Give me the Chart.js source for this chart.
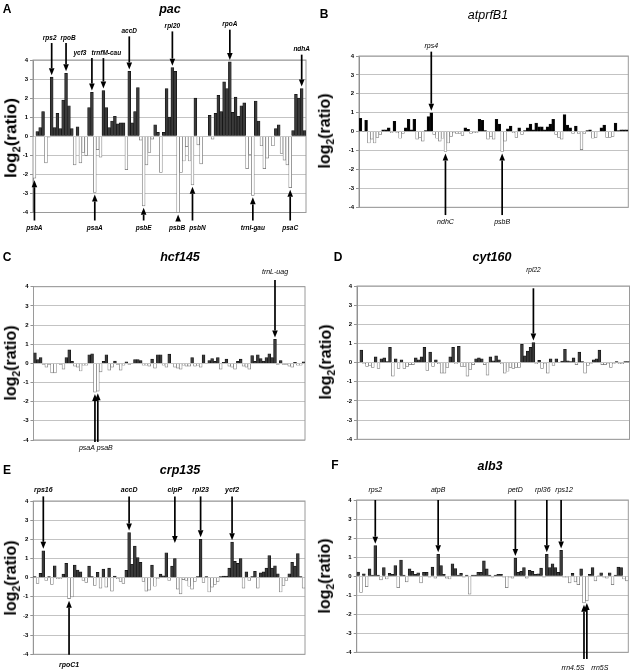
<!DOCTYPE html>
<html>
<head>
<meta charset="utf-8">
<script src="https://cdn.jsdelivr.net/npm/chart.js@4.4.1/dist/chart.umd.min.js"></script>
<style>
  body { margin: 0; background: #fff; width: 630px; height: 672px; position: relative; overflow: hidden; font-family: Arial, "Liberation Sans", sans-serif; }
  canvas { position: absolute; }
  .txt { position: absolute; transform: translate(-50%, -50%); white-space: nowrap; color: #000; }
  .letter { font: bold 12px Arial, "Liberation Sans", sans-serif; }
  .title { font: italic bold 12.5px Arial, "Liberation Sans", sans-serif; }
  .ylab { font: bold 16px Arial, "Liberation Sans", sans-serif; transform: translate(-50%, -50%) rotate(-90deg); }
  .ylab sub { font-size: 0.65em; }
</style>
</head>
<body>
<script>
// log2(ratio) per gene, in genome order
const pacVals = [-2.2, 0.25, 0.45, 1.3, -1.4, -0.05, 3.1, 0.45, 1.2, 0.4, 1.9, 3.3, 1.6, 0.4, -1.5, 0.5, -1.4, -0.85, -1.0, 1.5,
  2.3, -2.95, -0.7, -1.1, 2.4, 1.5, 0.45, 0.8, 1.05, 0.65, 0.7, 0.7, -1.75, 3.4, 0.7, 1.3, 2.55, -0.2, -3.65, -1.5,
  -0.85, -0.15, 0.6, 0.2, -1.9, 0.2, 2.5, 1.0, 3.6, 3.4, -4.0, -1.9, -1.3, -0.55, -1.3, -2.55, 2.0, -0.45, -1.45, 0,
  0, 1.1, -0.15, 1.2, 2.15, 1.3, 2.85, 2.5, 3.9, 1.25, 2.05, 1.05, 1.6, 1.75, -1.7, -0.95, -3.1, 1.85, 0.8, -0.5,
  -1.7, -1.15, 0, -0.5, 0.4, 0.6, -0.9, -1.25, -1.5, -2.7, 0.3, 2.2, 2.0, 2.5, 0.3];
const atprfB1Vals = [0.7, 0.02, 0.6, -0.6, -0.4, -0.6, -0.3, -0.15, 0.1, 0.1, 0.2, -0.05, 0.55, -0.05, -0.35, -0.1, 0.2, 0.65, 0.1, 0.65,
  -0.4, -0.3, -0.5, 0.05, 0.8, 1.0, -0.15, -0.35, -0.5, -0.35, -1.05, -0.6, -0.25, -0.05, -0.1, -0.1, -0.2, 0.2, 0.12, -0.1,
  -0.05, -0.05, 0.65, 0.6, 0.05, -0.4, -0.25, -0.4, 0.65, 0.4, -1.05, -0.5, 0.15, 0.3, -0.05, -0.3, 0.2, -0.15, 0.05, 0.2,
  0.4, 0.1, 0.45, 0.25, 0.25, 0.1, 0.25, 0.4, 0.65, -0.15, -0.3, -0.4, 0.9, 0.35, 0.2, -0.1, 0.3, -0.1, -0.95, -0.1,
  0.05, 0.1, -0.35, -0.3, 0.0, 0.2, 0.35, -0.3, -0.3, -0.25, 0.45, 0.05, 0.1, 0.1, 0.1];
const hcf145Vals = [0.55, 0.2, 0.3, -0.05, -0.2, -0.05, -0.5, -0.5, 0, -0.05, -0.3, 0.3, 0.7, 0.1, -0.15, -0.2, -0.4, -0.1, -0.1, 0.45,
  0.5, -1.5, -1.45, -0.45, 0.1, 0.45, -0.35, -0.2, 0.12, -0.05, -0.35, -0.1, 0.08, -0.05, 0, 0.2, 0.2, 0.15, -0.1, -0.1,
  -0.15, 0.22, -0.25, 0.45, 0.45, -0.1, -0.2, 0.48, 0, -0.2, -0.25, -0.3, -0.1, -0.15, -0.15, 0.3, -0.15, -0.1, -0.2, 0.45,
  0, 0.15, 0.25, 0.1, 0.3, -0.3, 0.05, 0.22, -0.15, -0.2, -0.3, 0.1, 0.22, -0.15, -0.2, -0.3, 0.4, 0.1, 0.45, 0.25,
  0.12, 0.3, 0.5, 0.3, 1.25, -0.05, 0.15, -0.05, -0.05, -0.15, -0.2, 0.05, -0.1, -0.1, 0.08];
const cyt160Vals = [0.02, 0.65, -0.05, -0.2, -0.15, -0.25, 0.3, -0.3, 0.2, 0.25, 0.05, 0.8, -0.7, 0.2, -0.3, 0.15, -0.3, -0.2, -0.1, -0.1,
  0.25, 0.15, 0.3, 0.8, -0.4, 0.55, -0.2, 0.15, -0.05, -0.55, -0.55, -0.25, 0.3, 0.8, -0.05, 0.85, -0.2, -0.2, -0.7, -0.35,
  -0.1, 0.2, 0.25, 0.2, -0.1, -0.65, 0.3, 0.1, 0.35, 0.15, -0.05, -0.55, -0.45, -0.25, -0.3, -0.25, -0.25, 0.95, 0.35, 0.6,
  0.8, 1.05, -0.05, 0.12, -0.3, -0.05, -0.55, 0.2, -0.15, 0.2, 0.0, 0.08, 0.7, 0.1, 0.05, 0.25, -0.1, 0.55, 0.05, -0.55,
  -0.15, -0.05, 0.15, 0.2, 0.65, -0.1, -0.1, -0.05, -0.25, -0.05, 0.05, -0.05, -0.05, 0.05, 0.05];
const crp135Vals = [0.05, -0.3, 0.22, 1.4, -0.15, 0.05, -0.35, 0.62, -0.05, -0.05, 0.18, 0.75, -1.1, -1.0, 0.65, 0.4, 0.3, -0.15, -0.25, 0.6,
  0.05, -0.4, 0.28, -0.55, 0.45, -0.5, 0.5, -0.7, 0.08, -0.05, -0.2, -0.3, 0.38, 2.35, 0.7, 1.65, 1.05, 0.8, -0.2, -0.7,
  -0.65, 0.65, -0.45, -0.05, 0.18, 0.1, 1.3, -0.15, 0.6, 1.0, -0.6, -0.85, -0.1, -0.15, -0.45, -0.6, -0.2, 0.05, 2.0, -0.25,
  0.05, -0.75, -0.5, -0.35, -0.2, 0.05, 0.08, 0.08, 0.5, 1.85, 0.85, 0.75, 1.0, -0.55, 0.3, -0.15, 0.05, 0.33, -0.55, 0.25,
  0.3, 0.5, 1.15, 0.5, 0.62, 0.2, -0.75, -0.4, -0.15, 0.2, 0.8, 0.6, 1.25, 0.05, -0.55];
const alb3Vals = [0.22, -0.85, 0.12, -0.55, 0.38, 0.05, 1.6, 0.05, -0.2, 0.45, -0.15, 0.15, 0.1, 0.55, -0.6, 0.85, 0.05, -0.3, 0.38, 0.25,
  0.1, 0.18, -0.35, 0.2, 0.2, -0.05, 0.48, -0.1, 1.15, 0.55, 0.1, -0.1, -0.15, 0.65, 0.4, 0.05, 0.15, -0.05, 0.05, -0.95,
  0.05, 0.05, 0.2, 0.2, 0.8, 0.38, 0.05, -0.05, 0.05, 0.1, 0.1, -0.05, -0.6, -0.05, -0.1, 0.95, 0.2, 0.25, 0.45, -0.1,
  0.3, 0.25, 0.1, 0.12, 0.42, -0.05, 1.15, 0.45, 0.65, 0.45, 0.2, 1.35, -0.05, -0.05, -0.35, 0.15, -0.3, -0.45, 0.38, -1.4,
  -1.3, 0.1, 0.45, -0.25, 0.02, 0.18, -0.05, -0.1, 0.18, -0.45, 0.05, 0.48, 0.45, -0.15, -0.25];

const yTicks = [-4, -3, -2, -1, 0, 1, 2, 3, 4];

// arrows: bar index, gene label, value where the arrow starts (above 4 / below -4)
const pacArrows = [
  { i: 6, label: "rps2", tail: 4.89, dx: -2 }, { i: 11, label: "rpoB", tail: 4.89, dx: 2 },
  { i: 20, label: "ycf3", tail: 4.1, dx: -12 }, { i: 24, label: "trnfM-cau", tail: 4.1, dx: 3 },
  { i: 33, label: "accD", tail: 5.24 }, { i: 48, label: "rpl20", tail: 5.5 },
  { i: 68, label: "rpoA", tail: 5.59 }, { i: 93, label: "ndhA", tail: 4.28 },
  { i: 0, label: "psbA", tail: -4.42 }, { i: 21, label: "psaA", tail: -4.42 },
  { i: 38, label: "psbE", tail: -4.42 }, { i: 50, label: "psbB", tail: -4.42, dx: -1 },
  { i: 55, label: "psbN", tail: -4.42, dx: 5 }, { i: 76, label: "trnI-gau", tail: -4.42 },
  { i: 89, label: "psaC", tail: -4.42 }
];
const atprfB1Arrows = [
  { i: 25, label: "rps4", tail: 4.23 }, { i: 30, label: "ndhC", tail: -4.41 }, { i: 50, label: "psbB", tail: -4.41 }
];
const hcf145Arrows = [
  { i: 84, label: "trnL-uag", tail: 4.35 },
  { i: 21, label: "psaA", tail: -4.1, dx: -8 }, { i: 22, label: "psaB", tail: -4.1, dx: 7 }
];
const cyt160Arrows = [{ i: 61, label: "rpl22", tail: 3.88 }];
const crp135Arrows = [
  { i: 3, label: "rps16", tail: 4.24 }, { i: 33, label: "accD", tail: 4.24 },
  { i: 49, label: "clpP", tail: 4.24, tip: 1.7 }, { i: 58, label: "rpl23", tail: 4.24 },
  { i: 69, label: "ycf2", tail: 4.24 }, { i: 12, label: "rpoC1", tail: -4.03 }
];
const alb3Arrows = [
  { i: 6, label: "rps2", tail: 4.0 }, { i: 28, label: "atpB", tail: 4.0 }, { i: 55, label: "petD", tail: 4.0 },
  { i: 66, label: "rpl36", tail: 4.0, dx: -4 }, { i: 71, label: "rps12", tail: 4.0, dx: 3 },
  { i: 79, label: "rrn4.5S", tail: -4.35, dx: -11 }, { i: 80, label: "rrn5S", tail: -4.35, dx: 13 }
];

const YW = 12; // width kept for the y tick labels

const panels = [
  { letter: "A", title: "pac", vals: pacVals, arrows: pacArrows, pos: "#3a3a3a",
    canvas: [0, 0, 315, 235], area: [33, 60, 306, 212.5], font: "italic bold 6.5px Arial", gap: [5, 7.5],
    letterAt: [7, 9], titleAt: [170, 9], ylabAt: [12, 138], ylabSize: 17 },
  { letter: "B", title: "atprfB1", vals: atprfB1Vals, arrows: atprfB1Arrows, pos: "#000",
    canvas: [315, 0, 315, 235], area: [359, 56, 628.3, 207.3], font: "italic 7px Arial", gap: [5.5, 6.7],
    letterAt: [324, 14], titleAt: [488, 15], ylabAt: [326, 131], titleWeight: "normal" },
  { letter: "C", title: "hcf145", vals: hcf145Vals, arrows: hcf145Arrows, pos: "#3a3a3a",
    canvas: [0, 235, 315, 220], area: [33.5, 286.7, 305, 440], font: "italic 7px Arial", gap: [7.7, 6],
    letterAt: [7, 257], titleAt: [180, 257], ylabAt: [12, 363] },
  { letter: "D", title: "cyt160", vals: cyt160Vals, arrows: cyt160Arrows, pos: "#3a3a3a",
    canvas: [315, 235, 315, 220], area: [357, 286, 629.5, 439.3], font: "italic 6.5px Arial", gap: [18, 7],
    letterAt: [338, 257], titleAt: [492, 257], ylabAt: [327, 362] },
  { letter: "E", title: "crp135", vals: crp135Vals, arrows: crp135Arrows, pos: "#3a3a3a",
    canvas: [0, 455, 315, 217], area: [33.3, 501, 305, 654.3], font: "italic bold 7px Arial", gap: [6.7, 10],
    letterAt: [7, 470], titleAt: [180, 470], ylabAt: [12, 578] },
  { letter: "F", title: "alb3", vals: alb3Vals, arrows: alb3Arrows, pos: "#3a3a3a",
    canvas: [315, 455, 315, 217], area: [356.7, 500, 628.3, 652.3], font: "italic 7px Arial", gap: [10, 9],
    letterAt: [335, 465], titleAt: [490, 466], ylabAt: [326, 576] }
];

const framePlugin = {
  id: "frame",
  beforeDatasetsDraw(chart) {
    const a = chart.chartArea;
    const ctx = chart.ctx;
    ctx.save();
    ctx.strokeStyle = "#9a9a9a";
    ctx.lineWidth = 1;
    ctx.strokeRect(a.left, a.top, a.right - a.left, a.bottom - a.top);
    ctx.restore();
  }
};

const arrowPlugin = {
  id: "arrows",
  afterDatasetsDraw(chart, args, opts) {
    const ctx = chart.ctx;
    const xs = chart.scales.x, ys = chart.scales.y;
    const vals = chart.data.datasets[0].data;
    ctx.save();
    ctx.fillStyle = "#000";
    ctx.strokeStyle = "#000";
    ctx.lineWidth = 1.7;
    ctx.font = opts.font;
    ctx.textAlign = "center";
    ctx.textBaseline = "middle";
    opts.list.forEach(a => {
      const x = xs.getPixelForValue(a.i);
      const v = a.tip !== undefined ? a.tip : vals[a.i];
      const dir = a.tail > 0 ? 1 : -1; // 1 = pointing down
      const y0 = ys.getPixelForValue(a.tail);
      const tipY = ys.getPixelForValue(v) - dir * 2;
      const base = tipY - dir * 7;
      if ((base - y0) * dir > 0) {
        ctx.beginPath();
        ctx.moveTo(x, y0);
        ctx.lineTo(x, base);
        ctx.stroke();
      }
      ctx.beginPath();
      ctx.moveTo(x, tipY);
      ctx.lineTo(x - 2.8, base);
      ctx.lineTo(x + 2.8, base);
      ctx.closePath();
      ctx.fill();
      const gap = dir > 0 ? opts.gap[0] : opts.gap[1];
      ctx.fillText(a.label, x + (a.dx || 0), y0 - dir * gap);
    });
    ctx.restore();
  }
};

function addText(cls, html, at, extra) {
  const d = document.createElement("div");
  d.className = "txt " + cls;
  d.innerHTML = html;
  d.style.left = at[0] + "px";
  d.style.top = at[1] + "px";
  if (extra) Object.assign(d.style, extra);
  document.body.appendChild(d);
}

panels.forEach(p => {
  const [cx, cy, cw, ch] = p.canvas;
  const [l, t, r, b] = p.area;
  const cv = document.createElement("canvas");
  cv.width = cw;
  cv.height = ch;
  cv.style.left = cx + "px";
  cv.style.top = cy + "px";
  document.body.appendChild(cv);

  new Chart(cv, {
    type: "bar",
    data: {
      labels: p.vals.map((v, i) => i + 1),
      datasets: [{
        data: p.vals,
        backgroundColor: p.vals.map(v => (v >= 0 ? p.pos : "#fff")),
        borderColor: p.vals.map(v => (v >= 0 ? "#111" : "#707070")),
        borderWidth: 0.7,
        categoryPercentage: 1,
        barPercentage: 1
      }]
    },
    options: {
      responsive: false,
      animation: false,
      events: [],
      layout: { padding: { left: l - cx - YW, top: t - cy, right: cx + cw - r, bottom: cy + ch - b } },
      plugins: {
        legend: { display: false },
        tooltip: { enabled: false },
        arrows: { list: p.arrows, font: p.font, gap: p.gap }
      },
      scales: {
        x: { display: false },
        y: {
          min: yTicks[0],
          max: yTicks[yTicks.length - 1],
          afterFit: s => { s.width = YW; },
          afterBuildTicks: s => { s.ticks = yTicks.map(v => ({ value: v })); },
          ticks: { font: { size: 6, weight: "bold", family: "Arial" }, color: "#000", padding: 2 },
          grid: { color: "#b4b4b4", lineWidth: 0.8, tickLength: 3, tickColor: "#777" },
          border: { color: "#888", width: 1 }
        }
      }
    },
    plugins: [framePlugin, arrowPlugin]
  });

  addText("letter", p.letter, p.letterAt);
  addText("title", p.title, p.titleAt, p.titleWeight ? { fontWeight: p.titleWeight } : null);
  addText("ylab", "log<sub>2</sub>(ratio)", p.ylabAt, p.ylabSize ? { fontSize: p.ylabSize + "px" } : null);
});
</script>
</body>
</html>
